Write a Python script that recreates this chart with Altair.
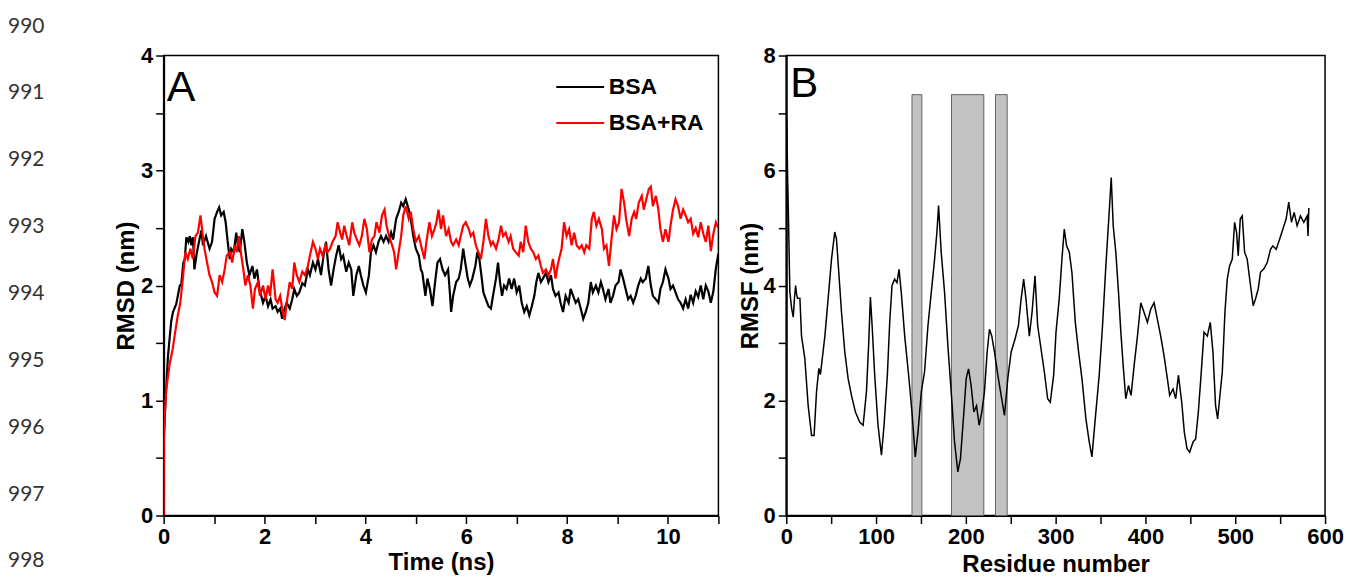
import altair as alt
import pandas as pd

FONT = "Liberation Sans"
LETTER_FONT = "Liberation Sans"

# ---------------- Panel A: RMSD vs time ----------------
bsa_t = [0, 0.02, 0.05, 0.085, 0.12, 0.15, 0.185, 0.25, 0.32, 0.35, 0.39, 0.42, 0.45, 0.49, 0.52, 0.55, 0.58, 0.61,
         0.66, 0.71, 0.75, 0.78, 0.84, 0.91, 0.96, 1.01, 1.06, 1.10, 1.14, 1.19, 1.23, 1.27, 1.31, 1.34, 1.39, 1.44,
         1.47, 1.51, 1.56, 1.60, 1.65, 1.70, 1.76, 1.80, 1.85, 1.90, 1.97, 2.02, 2.07, 2.12, 2.16, 2.22, 2.26, 2.31,
         2.35, 2.40, 2.44, 2.50, 2.55, 2.59, 2.64, 2.69, 2.75, 2.80, 2.86, 2.90, 2.96, 3.01, 3.06, 3.12, 3.17, 3.22,
         3.27, 3.32, 3.37, 3.42, 3.47, 3.52, 3.56, 3.62, 3.67, 3.72, 3.76, 3.82, 3.87, 3.91, 3.96, 4.01, 4.07, 4.11,
         4.16, 4.21, 4.26, 4.31, 4.36, 4.41, 4.46, 4.51, 4.55, 4.61, 4.66, 4.71, 4.75, 4.80, 4.86, 4.90, 4.95, 5.00,
         5.06, 5.10, 5.13, 5.19, 5.23, 5.28, 5.33, 5.39, 5.43, 5.48, 5.53, 5.58, 5.64, 5.68, 5.70, 5.74, 5.80, 5.85,
         5.89, 5.94, 5.98, 6.03, 6.07, 6.12, 6.18, 6.22, 6.26, 6.30, 6.34, 6.39, 6.44, 6.49, 6.53, 6.59, 6.63, 6.67,
         6.71, 6.75, 6.80, 6.85, 6.90, 6.95, 7.00, 7.05, 7.10, 7.15, 7.20, 7.25, 7.30, 7.35, 7.39, 7.43, 7.48, 7.52,
         7.58, 7.63, 7.68, 7.72, 7.77, 7.83, 7.87, 7.92, 7.97, 8.03, 8.07, 8.12, 8.17, 8.22, 8.27, 8.32, 8.37, 8.42,
         8.47, 8.51, 8.57, 8.62, 8.67, 8.71, 8.76, 8.82, 8.86, 8.91, 8.96, 9.02, 9.06, 9.11, 9.16, 9.21, 9.26, 9.31,
         9.36, 9.41, 9.46, 9.50, 9.56, 9.61, 9.66, 9.70, 9.76, 9.81, 9.85, 9.90, 9.95, 10.01, 10.05, 10.10, 10.15,
         10.20, 10.25, 10.30, 10.35, 10.40, 10.45, 10.50, 10.55, 10.60, 10.65, 10.70, 10.75, 10.80, 10.85, 10.90,
         10.95, 11.0]
bsa_v = [0.62, 0.83, 1.10, 1.38, 1.55, 1.69, 1.77, 1.84, 2.00, 2.01, 2.20, 2.23, 2.42, 2.38, 2.43, 2.35, 2.42, 2.14,
         2.29, 2.40, 2.48, 2.35, 2.43, 2.32, 2.38, 2.58, 2.64, 2.68, 2.61, 2.64, 2.55, 2.38, 2.23, 2.32, 2.29, 2.46,
         2.35, 2.29, 2.49, 2.38, 2.20, 2.09, 2.17, 2.06, 2.14, 1.97, 1.85, 1.91, 1.82, 1.88, 1.80, 1.82, 1.77, 1.80,
         1.71, 1.80, 1.85, 1.80, 1.88, 1.97, 1.91, 1.94, 2.02, 2.00, 2.14, 2.09, 2.20, 2.14, 2.23, 2.09, 2.26, 2.38,
         2.14, 2.00, 2.14, 2.26, 2.35, 2.23, 2.26, 2.12, 2.20, 2.14, 1.91, 2.09, 2.17, 2.09, 2.00, 1.94, 2.09, 2.29,
         2.35, 2.29, 2.38, 2.43, 2.38, 2.43, 2.38, 2.46, 2.40, 2.58, 2.64, 2.72, 2.69, 2.75, 2.66, 2.58, 2.43, 2.32,
         2.26, 2.14, 2.11, 1.91, 2.06, 1.97, 1.82, 2.06, 2.20, 2.23, 2.14, 2.09, 2.14, 1.91, 1.77, 1.91, 2.03, 2.06,
         2.14, 2.32, 2.20, 2.06, 2.00, 2.06, 2.17, 2.29, 2.23, 2.09, 1.94, 1.88, 1.82, 1.80, 1.91, 2.06, 2.20, 2.03,
         1.91, 2.00, 1.97, 2.06, 1.97, 2.06, 1.94, 2.00, 1.85, 1.77, 1.82, 1.74, 1.82, 1.91, 2.03, 2.11, 2.03, 2.06,
         2.11, 2.03, 2.09, 1.97, 1.91, 1.94, 1.85, 1.77, 1.91, 1.85, 1.97, 1.91, 1.85, 1.88, 1.80, 1.71, 1.77, 1.85,
         2.03, 1.94, 2.00, 1.94, 2.03, 1.97, 1.88, 1.97, 1.85, 1.91, 2.00, 2.03, 2.14, 2.06, 1.97, 1.88, 1.91, 1.85,
         1.91, 2.00, 2.06, 2.03, 2.06, 2.17, 2.00, 1.91, 1.88, 1.85, 1.97, 2.03, 2.14, 2.06, 1.97, 2.00, 1.94,
         1.88, 1.85, 1.80, 1.88, 1.80, 1.92, 1.85, 1.95, 1.90, 2.00, 1.88, 2.00, 1.95, 1.85, 1.95,
         2.15, 2.28]

ra_t = [0, 0.005, 0.05, 0.12, 0.18, 0.22, 0.28, 0.33, 0.38, 0.43, 0.48, 0.53, 0.58, 0.63, 0.68, 0.73, 0.77, 0.81,
        0.86, 0.91, 0.96, 1.01, 1.06, 1.11, 1.16, 1.21, 1.25, 1.31, 1.36, 1.41, 1.45, 1.49, 1.54, 1.58, 1.62, 1.67,
        1.72, 1.77, 1.81, 1.87, 1.91, 1.97, 2.02, 2.07, 2.11, 2.16, 2.22, 2.26, 2.31, 2.35, 2.40, 2.44, 2.50, 2.55,
        2.59, 2.64, 2.69, 2.75, 2.80, 2.86, 2.90, 2.96, 3.01, 3.06, 3.10, 3.15, 3.21, 3.25, 3.30, 3.35, 3.41, 3.45,
        3.50, 3.54, 3.58, 3.63, 3.68, 3.74, 3.78, 3.83, 3.88, 3.93, 3.98, 4.03, 4.08, 4.13, 4.18, 4.22, 4.28, 4.33,
        4.38, 4.42, 4.47, 4.53, 4.57, 4.61, 4.66, 4.71, 4.75, 4.80, 4.86, 4.90, 4.95, 5.00, 5.06, 5.12, 5.17, 5.21,
        5.27, 5.32, 5.37, 5.41, 5.45, 5.50, 5.54, 5.60, 5.65, 5.70, 5.74, 5.80, 5.85, 5.89, 5.94, 5.99, 6.05, 6.09,
        6.14, 6.19, 6.24, 6.29, 6.34, 6.39, 6.44, 6.49, 6.53, 6.59, 6.64, 6.69, 6.73, 6.78, 6.84, 6.88, 6.93, 6.98,
        7.04, 7.08, 7.13, 7.18, 7.23, 7.28, 7.33, 7.38, 7.43, 7.48, 7.52, 7.58, 7.63, 7.68, 7.72, 7.77, 7.81, 7.84,
        7.89, 7.94, 7.99, 8.04, 8.09, 8.14, 8.19, 8.24, 8.29, 8.34, 8.38, 8.44, 8.49, 8.53, 8.58, 8.63, 8.69, 8.73,
        8.78, 8.83, 8.88, 8.93, 8.98, 9.03, 9.08, 9.13, 9.17, 9.23, 9.28, 9.33, 9.37, 9.42, 9.48, 9.52, 9.57, 9.62,
        9.66, 9.70, 9.76, 9.81, 9.85, 9.90, 9.95, 10.01, 10.05, 10.10, 10.15, 10.20, 10.25, 10.30, 10.35, 10.40,
        10.45, 10.50, 10.55, 10.60, 10.65, 10.70, 10.75, 10.80, 10.85, 10.90, 10.95, 11.0]
ra_v = [0.0, 0.75, 1.09, 1.32, 1.45, 1.57, 1.74, 1.85, 2.06, 2.29, 2.23, 2.32, 2.23, 2.43, 2.46, 2.61, 2.46, 2.32,
        2.20, 2.09, 2.03, 1.94, 1.91, 2.09, 2.03, 2.14, 2.26, 2.29, 2.20, 2.35, 2.29, 2.43, 2.26, 2.14, 2.00, 2.09,
        2.00, 1.80, 1.97, 2.03, 1.91, 2.00, 1.88, 2.00, 1.91, 2.14, 1.88, 1.85, 1.91, 1.80, 1.70, 1.85, 2.03, 1.97,
        2.20, 2.09, 2.03, 2.12, 2.09, 2.17, 2.26, 2.38, 2.32, 2.23, 2.32, 2.26, 2.35, 2.29, 2.32, 2.38, 2.43, 2.55,
        2.46, 2.40, 2.52, 2.43, 2.35, 2.55, 2.46, 2.40, 2.35, 2.43, 2.58, 2.49, 2.29, 2.40, 2.43, 2.55, 2.46, 2.61,
        2.66, 2.52, 2.43, 2.35, 2.29, 2.14, 2.29, 2.43, 2.61, 2.69, 2.58, 2.64, 2.49, 2.38, 2.43, 2.32, 2.23, 2.38,
        2.55, 2.43, 2.49, 2.55, 2.66, 2.49, 2.61, 2.43, 2.49, 2.38, 2.35, 2.40, 2.35, 2.43, 2.52, 2.55, 2.49, 2.43,
        2.46, 2.35, 2.29, 2.23, 2.38, 2.58, 2.43, 2.35, 2.38, 2.32, 2.40, 2.52, 2.43, 2.46, 2.38, 2.43, 2.32, 2.29,
        2.26, 2.38, 2.29, 2.52, 2.38, 2.32, 2.29, 2.23, 2.26, 2.17, 2.11, 2.14, 2.09, 2.14, 2.23, 2.06, 2.17, 2.23,
        2.32, 2.55, 2.43, 2.49, 2.35, 2.46, 2.35, 2.32, 2.35, 2.29, 2.35, 2.32, 2.58, 2.64, 2.52, 2.58, 2.49, 2.32,
        2.35, 2.17, 2.40, 2.61, 2.49, 2.55, 2.84, 2.72, 2.58, 2.43, 2.58, 2.64, 2.58, 2.72, 2.78, 2.66, 2.75, 2.84,
        2.86, 2.69, 2.78, 2.66, 2.49, 2.38, 2.49, 2.38, 2.52, 2.66, 2.75, 2.69, 2.58, 2.66, 2.61, 2.55,
        2.58, 2.45, 2.50, 2.42, 2.55, 2.45, 2.38, 2.52, 2.30, 2.45, 2.55, 2.50]

series_names = ["BSA", "BSA+RA"]
series_colors = ["#000000", "#ff0000"]

x_ticks_a = list(range(0, 12))
y_ticks_a = [0, 0.5, 1, 1.5, 2, 2.5, 3, 3.5, 4]

# ---------------- Panel B: RMSF vs residue ----------------
res = [0, 0.5, 1.5, 2.5, 4, 6, 7.8, 9, 10.4, 11.5, 12.6, 15.2, 17, 20.7, 24.4, 28.2, 31, 33.7, 36.3, 38, 39.3, 43,
       46.7, 50.4, 54, 55.9, 58.5, 61.5, 65.2, 68.9, 72.6, 77, 81.9, 85.6, 89.3, 91.9, 93.7, 95.6, 98.5, 102.2, 106,
       108.9, 112.6, 115.2, 117.8, 120.7, 123.3, 125.6, 128.1, 131.9, 136.3, 140, 143.7, 146.7, 150.4, 154, 157.8,
       161.5, 165.2, 167.8, 169.6, 172.6, 176.3, 180, 183.7, 187.4, 191.1, 194, 197.8, 200.4, 203, 205.9, 208.9,
       211.9, 214.8, 217.8, 220.7, 223.7, 226.3, 228.9, 231.9, 235.6, 239.3, 243, 246.7, 250.4, 254.8, 258.5, 261.5,
       264.4, 267, 270.7, 273.7, 277, 280, 283.7, 287.4, 291.1, 294, 297.8, 300.4, 304, 307, 309.6, 312.2, 315.2,
       318.1, 321.9, 325.6, 329.3, 333.7, 337.4, 340.4, 344.1, 348.5, 352.2, 355.9, 359.6, 361.9, 364.1, 367, 370,
       372.6, 375.2, 378.1, 381.1, 384, 387.4, 391.1, 394.8, 398.5, 402.2, 405.9, 409.6, 413.3, 417, 420.7, 424.4,
       427, 430.7, 433.7, 436.7, 440.4, 443.3, 446.3, 449.3, 453, 455.9, 458.9, 461.9, 465.2, 468.9, 472.2, 475.2,
       478.1, 480.4, 482.6, 485.6, 488.5, 491.1, 493.7, 496.7, 499.3, 501.5, 503.3, 505.6, 507.8, 510.4, 513.3, 517,
       520, 522.6, 525.6, 528.1, 531.9, 535.6, 539.3, 541.9, 545.6, 549.3, 553, 556.7, 559.6, 562.6, 565.6, 568.9,
       572.6, 576.3, 580, 581.1, 581.9]
rmsf = [1.4, 6.9, 5.9, 5.16, 3.89, 3.6, 3.45, 3.75, 4.0, 3.85, 3.78, 3.78, 3.12, 2.73, 1.91, 1.39, 1.39, 2.15, 2.56,
        2.45, 2.62, 3.12, 3.78, 4.46, 4.93, 4.81, 4.23, 3.54, 2.84, 2.38, 2.09, 1.80, 1.62, 1.57, 2.15, 3.02, 3.80,
        3.31, 2.44, 1.57, 1.05, 1.57, 2.44, 3.36, 4.0, 4.11, 4.05, 4.28, 3.88, 3.12, 2.44, 1.80, 1.02, 1.45, 2.15,
        2.50, 3.30, 3.88, 4.46, 4.93, 5.39, 4.57, 3.88, 2.95, 2.15, 1.28, 0.76, 0.99, 1.80, 2.38, 2.55, 2.26, 1.80,
        1.91, 1.57, 1.80, 2.15, 2.84, 3.24, 3.12, 2.84, 2.44, 2.09, 1.74, 2.38, 2.84, 3.07, 3.30, 3.76, 4.11, 3.76,
        3.12, 3.53, 4.17, 3.30, 2.90, 2.50, 2.03, 1.97, 2.44, 3.19, 3.77, 4.46, 4.98, 4.69, 4.58, 4.23, 3.36, 2.84,
        2.38, 1.68, 1.28, 1.02, 1.68, 2.44, 3.30, 4.34, 5.27, 5.88, 5.04, 4.58, 3.88, 3.19, 2.61, 2.03, 2.26, 2.09,
        2.61, 3.12, 3.70, 3.53, 3.36, 3.59, 3.70, 3.41, 3.12, 2.78, 2.38, 2.09, 2.20, 2.03, 2.44, 1.97, 1.45, 1.16,
        1.10, 1.28, 1.33, 1.80, 2.44, 3.19, 3.12, 3.36, 2.84, 1.91, 1.68, 2.03, 2.50, 3.53, 4.11, 4.34, 4.46, 5.10,
        4.92, 4.52, 5.16, 5.21, 4.58, 4.46, 4.0, 3.65, 3.77, 3.94, 4.23, 4.29, 4.40, 4.63, 4.69, 4.63, 4.80, 4.98,
        5.16, 5.45, 5.10, 5.27, 5.04, 5.21, 5.10, 5.21, 4.86, 5.35]

bar_start = [140, 184, 233]
bar_end = [151, 220, 246]
bar_top = [7.32, 7.32, 7.32]

x_ticks_b = list(range(0, 601, 50))
y_ticks_b = list(range(0, 9))

# ---------------- manuscript line numbers ----------------
line_numbers = [990, 991, 992, 993, 994, 995, 996, 997, 998]

# ---------------- build tables ----------------
rmsd_df = pd.concat([
    pd.DataFrame({"t": bsa_t, "v": bsa_v, "s": series_names[0], "k": 0}),
    pd.DataFrame({"t": ra_t, "v": ra_v, "s": series_names[1], "k": 1}),
])
rmsf_df = pd.DataFrame({"r": res, "f": rmsf})
bars_df = pd.DataFrame({"a": bar_start, "b": bar_end, "lo": [0] * len(bar_start), "hi": bar_top})
ln_df = pd.DataFrame({"n": line_numbers})

PW_A, PW_B, PH = 556, 540, 461
FRAME = alt.ViewBackground(stroke="black", strokeWidth=1.5, fill="white")

# Panel A
xA = alt.X("t:Q", scale=alt.Scale(domain=[0, 11], nice=False, zero=False),
           axis=alt.Axis(title="Time (ns)", values=x_ticks_a, titlePadding=3,
                         labelExpr="datum.value % 2 == 0 ? format(datum.value, 'd') : ''"))
yA = alt.Y("v:Q", scale=alt.Scale(domain=[0, 4], nice=False),
           axis=alt.Axis(title="RMSD (nm)", values=y_ticks_a, titlePadding=2,
                         labelExpr="datum.value % 1 == 0 ? format(datum.value, 'd') : ''"))

lines_a = alt.Chart(rmsd_df).mark_line(strokeWidth=2.2, clip=True).encode(
    x=xA, y=yA,
    color=alt.Color("s:N", scale=alt.Scale(domain=series_names, range=series_colors),
                    legend=alt.Legend(title=None, orient="none", legendX=562, legendY=20,
                                      symbolType="M-3,0H3", symbolSize=256, symbolStrokeWidth=2,
                                      labelFont=FONT, labelFontSize=23, labelFontWeight="bold",
                                      labelColor="black", labelOffset=17, rowPadding=12, padding=0)),
    detail="k:N",
)
letter_a = alt.Chart(pd.DataFrame({"lab": ["A"]})).mark_text(
    align="left", baseline="alphabetic", dx=3, dy=46, font=LETTER_FONT, fontSize=43, color="black"
).encode(x=alt.datum(0), y=alt.datum(4), text="lab:N")

panel_a = alt.layer(lines_a, letter_a).properties(width=PW_A, height=PH, view=FRAME)

# Panel B
xB = alt.X("a:Q", scale=alt.Scale(domain=[0, 600], nice=False, zero=False),
           axis=alt.Axis(title="Residue number", values=x_ticks_b, titlePadding=5,
                         labelExpr="datum.value % 100 == 0 ? format(datum.value, 'd') : ''"))
yB = alt.Y("lo:Q", scale=alt.Scale(domain=[0, 8], nice=False),
           axis=alt.Axis(title="RMSF (nm)", values=y_ticks_b, titlePadding=1,
                         labelExpr="datum.value % 2 == 0 ? format(datum.value, 'd') : ''"))

bars_b = alt.Chart(bars_df).mark_rect(fill="#c2c2c2", stroke="#606060", strokeWidth=1).encode(
    x=xB, x2="b:Q", y=yB, y2="hi:Q")
line_b = alt.Chart(rmsf_df).mark_line(color="black", strokeWidth=1.5, clip=True).encode(
    x=alt.X("r:Q"), y=alt.Y("f:Q"))
letter_b = alt.Chart(pd.DataFrame({"lab": ["B"]})).mark_text(
    align="left", baseline="alphabetic", dx=4, dy=42, font=LETTER_FONT, fontSize=42, color="black"
).encode(x=alt.datum(0), y=alt.datum(8), text="lab:N")

panel_b = alt.layer(bars_b, line_b, letter_b).properties(width=PW_B, height=PH, view=FRAME)

# Line-number column
ln_chart = alt.Chart(ln_df).mark_text(align="left", baseline="middle", font="Lato", fontSize=21,
                                       color="#333333").encode(
    x=alt.value(0),
    y=alt.Y("n:Q", scale=alt.Scale(domain=[990.433, 997.313], reverse=True, nice=False, zero=False), axis=None),
    text="n:N",
).properties(width=88, height=PH, view=alt.ViewBackground(strokeWidth=0, fill="white"))

chart = alt.hconcat(ln_chart, panel_a, panel_b, spacing=68, bounds="flush").properties(
    padding={"left": 0, "top": 6, "right": 0, "bottom": 0}
).configure(background="white").configure_view(strokeWidth=0).configure_axis(
    domainColor="black", domainWidth=2, tickColor="black", tickWidth=1.5, tickSize=8,
    labelFont=FONT, labelFontSize=22, labelFontWeight="bold", labelColor="black", labelPadding=3,
    titleFont=FONT, titleFontSize=24, titleFontWeight="bold", titleColor="black",
    grid=False, labelFlush=False, labelOverlap=False,
)

chart.save("out.html", embed_options={"renderer": "svg", "actions": False})
